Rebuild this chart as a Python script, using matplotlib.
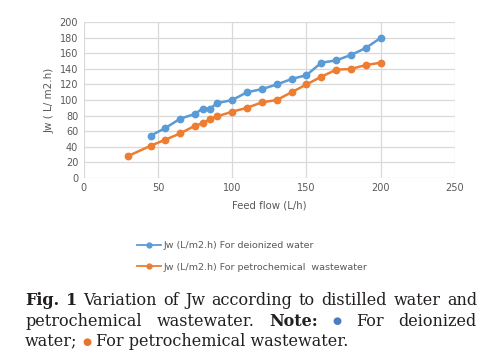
import matplotlib.pyplot as plt
from matplotlib.lines import Line2D

# feed flow (L/h) and permeate flux Jw (L/m2.h)
flow_deionized = [45, 55, 65, 75, 80, 85, 90, 100, 110, 120, 130, 140, 150, 160, 170, 180, 190, 200]
jw_deionized = [54, 64, 76, 82, 89, 89, 96, 100, 110, 114, 120, 127, 132, 148, 151, 158, 167, 180]

flow_petro = [30, 45, 55, 65, 75, 80, 85, 90, 100, 110, 120, 130, 140, 150, 160, 170, 180, 190, 200]
jw_petro = [28, 41, 49, 57, 67, 70, 75, 79, 85, 90, 97, 100, 110, 120, 130, 139, 140, 145, 148]

label_deionized = 'Jw (L/m2.h) For deionized water'
label_petro = 'Jw (L/m2.h) For petrochemical  wastewater'

BLUE = '#5B9BD5'
ORANGE = '#ED7D31'
GREY = '#595959'

fig = plt.figure(figsize=(4.97, 3.53), dpi=100)
ax = fig.add_axes([0.1684, 0.4966, 0.9155 - 0.1684, 0.9368 - 0.4966])

ax.plot(flow_deionized, jw_deionized, color=BLUE, marker='o', markersize=4.6, linewidth=1.8,
        label=label_deionized, zorder=3)
ax.plot(flow_petro, jw_petro, color=ORANGE, marker='o', markersize=4.6, linewidth=1.8,
        label=label_petro, zorder=3)

ax.set_xlim(0, 250)
ax.set_ylim(0, 200)
ax.set_xticks(range(0, 251, 50))
ax.set_yticks(range(0, 201, 20))
ax.grid(True, color='#D9D9D9', linewidth=0.9)
ax.set_axisbelow(True)
for s in ax.spines.values():
    s.set_visible(False)
ax.tick_params(length=0, labelsize=7, labelcolor=GREY, pad=4)
ax.set_xlabel('Feed flow (L/h)', fontsize=7.3, color=GREY, labelpad=5)
ax.set_ylabel('Jw ( L/ m2.h)', fontsize=7.5, color=GREY, labelpad=4)

handles = [Line2D([], [], color=BLUE, marker='o', markersize=3.5, linewidth=1.3),
           Line2D([], [], color=ORANGE, marker='o', markersize=3.5, linewidth=1.3)]
leg = fig.legend(handles, [label_deionized, label_petro], loc='upper left',
                 bbox_to_anchor=(128 / 497, 1 - 233 / 353), frameon=False,
                 fontsize=6.8, labelspacing=1.3, handlelength=2.6, handletextpad=0.3)
for t in leg.get_texts():
    t.set_color(GREY)

# caption, justified like the source page
left_px, right_px = 25, 477
cap_lines = [
    [('Fig.', 'bold', '#231F20'), ('1', 'bold', '#231F20'), ('Variation', 'normal', '#231F20'),
     ('of', 'normal', '#231F20'), ('Jw', 'normal', '#231F20'), ('according', 'normal', '#231F20'),
     ('to', 'normal', '#231F20'), ('distilled', 'normal', '#231F20'), ('water', 'normal', '#231F20'),
     ('and', 'normal', '#231F20')],
    [('petrochemical', 'normal', '#231F20'), ('wastewater.', 'normal', '#231F20'),
     ('Note:', 'bold', '#231F20'), ('\u25CF', 'normal', '#4A7EC0'), ('For', 'normal', '#231F20'),
     ('deionized', 'normal', '#231F20')],
    [('water;', 'normal', '#231F20'), ('\u25CF', 'normal', '#E8732A'),
     ('For petrochemical wastewater.', 'normal', '#231F20')],
]
cap_y = [300.5, 321.5, 342]
justify = [True, True, False]

fig.canvas.draw()
renderer = fig.canvas.get_renderer()
for words, ypx, just in zip(cap_lines, cap_y, justify):
    texts = []
    for w, weight, col in words:
        size = 7.5 if w == '\u25CF' else 11.5
        t = fig.text(0, 1 - ypx / 353, w, fontsize=size, fontweight=weight, color=col,
                     family='DejaVu Serif', va='center', ha='left')
        texts.append(t)
    widths = [t.get_window_extent(renderer).width for t in texts]
    if just:
        gap = (right_px - left_px - sum(widths)) / (len(texts) - 1)
    else:
        gap = 5
    x = left_px
    for t, w in zip(texts, widths):
        t.set_x(x / 497)
        x += w + gap

fig.savefig('out.png', dpi=100)
